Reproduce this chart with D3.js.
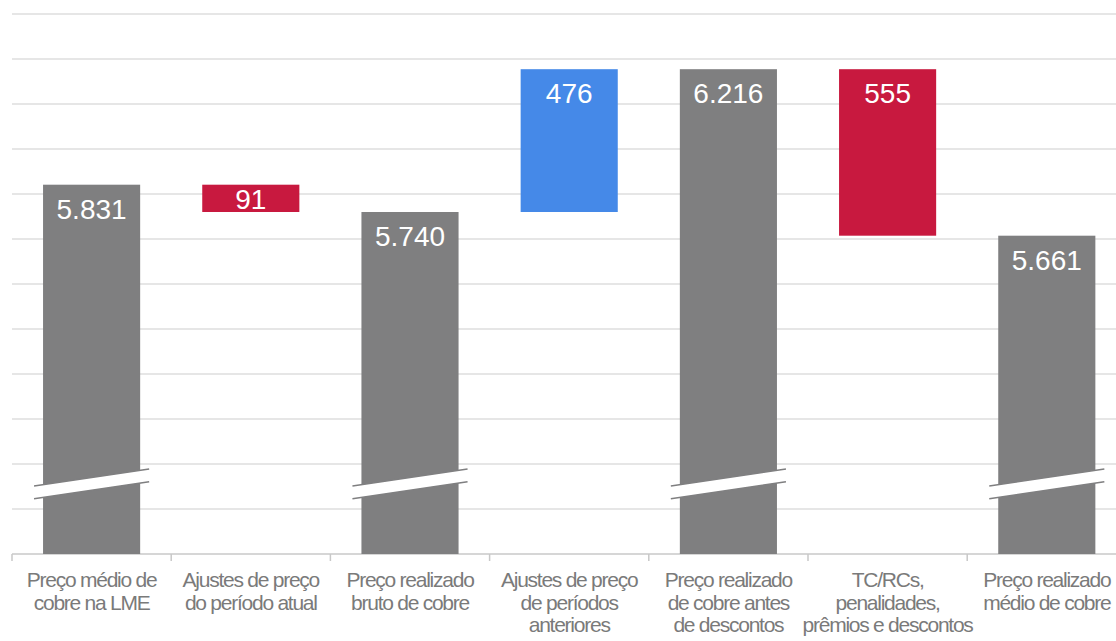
<!DOCTYPE html>
<html>
<head>
<meta charset="utf-8">
<script src="https://cdn.jsdelivr.net/npm/d3@7/dist/d3.min.js"></script>
<style>
  html, body { margin: 0; padding: 0; background: #ffffff; }
  svg { display: block; }
  text { font-family: "Liberation Sans", Arial, sans-serif; }
</style>
</head>
<body>
<svg id="chart" width="1116" height="641"></svg>
<script>
// Copper price bridge (US$/t)
const categories = [
  ["Preço médio de", "cobre na LME"],
  ["Ajustes de preço", "do período atual"],
  ["Preço realizado", "bruto de cobre"],
  ["Ajustes de preço", "de períodos", "anteriores"],
  ["Preço realizado", "de cobre antes", "de descontos"],
  ["TC/RCs,", "penalidades,", "prêmios e descontos"],
  ["Preço realizado", "médio de cobre"]
];
const values = [5831, -91, 5740, 476, 6216, -555, 5661];
const kinds = ["total", "delta", "total", "delta", "total", "delta", "total"];
const axisMin = 4600;
const axisMax = 6400;
const gridStep = 150;

const colors = { total: "#7f7f80", down: "#c8193f", up: "#4589e8" };

const W = 1116, H = 641;
const margin = { left: 12, top: 14, bottom: 87 };
const bandStep = 159.2;

const svg = d3.select("#chart");

const x = d3.scaleBand()
  .domain(d3.range(categories.length))
  .range([margin.left, margin.left + bandStep * categories.length])
  .paddingInner(0.39)
  .paddingOuter(0.195);

const y = d3.scaleLinear()
  .domain([axisMin, axisMax])
  .range([H - margin.bottom, margin.top]);

const fmt = d3.formatLocale({ decimal: ",", thousands: ".", grouping: [3], currency: ["", ""] }).format(",d");

// Build waterfall segments
let level = 0;
const bars = values.map((v, i) => {
  let lo, hi, color;
  if (kinds[i] === "total") {
    lo = axisMin; hi = v; level = v; color = colors.total;
  } else {
    const next = level + v;
    lo = Math.min(level, next); hi = Math.max(level, next);
    color = v < 0 ? colors.down : colors.up;
    level = next;
  }
  return { i, lo, hi, color, label: fmt(Math.abs(v)), kind: kinds[i] };
});

// Gridlines
const gridVals = d3.range(axisMin + gridStep, axisMax + 1, gridStep);
svg.append("g")
  .selectAll("line")
  .data(gridVals)
  .join("line")
  .attr("x1", margin.left).attr("x2", W)
  .attr("y1", d => y(d)).attr("y2", d => y(d))
  .attr("stroke", "#dedede")
  .attr("stroke-width", 1.5);

// Bottom axis with boundary ticks
const xAxis = svg.append("g");
xAxis.append("line")
  .attr("x1", margin.left).attr("x2", W)
  .attr("y1", y(axisMin)).attr("y2", y(axisMin))
  .attr("stroke", "#c8c8c8").attr("stroke-width", 1.5);
xAxis.selectAll("line.tick")
  .data(d3.range(categories.length + 1))
  .join("line")
  .attr("class", "tick")
  .attr("x1", d => margin.left + d * bandStep)
  .attr("x2", d => margin.left + d * bandStep)
  .attr("y1", y(axisMin)).attr("y2", y(axisMin) + 7)
  .attr("stroke", "#c8c8c8").attr("stroke-width", 1.5);

// Bars
svg.append("g")
  .selectAll("rect")
  .data(bars)
  .join("rect")
  .attr("x", d => x(d.i))
  .attr("width", x.bandwidth())
  .attr("y", d => y(d.hi))
  .attr("height", d => y(d.lo) - y(d.hi))
  .attr("fill", d => d.color);

// Axis-break marks on total bars
const breakGroup = svg.append("g");
bars.filter(d => d.kind === "total").forEach(d => {
  const x0 = x(d.i) - 9, x1 = x(d.i) + x.bandwidth() + 9;
  const base = y(axisMin);
  const yl = base - 68, yr = base - 85, gap = 12.7;
  breakGroup.append("path")
    .attr("d", `M${x0},${yl} L${x1},${yr} L${x1},${yr + gap} L${x0},${yl + gap} Z`)
    .attr("fill", "#ffffff");
  breakGroup.append("path")
    .attr("d", `M${x0},${yl} L${x1},${yr} M${x0},${yl + gap} L${x1},${yr + gap}`)
    .attr("fill", "none")
    .attr("stroke", "#7f7f80")
    .attr("stroke-width", 1.6);
});

// Value labels
svg.append("g")
  .selectAll("text")
  .data(bars)
  .join("text")
  .attr("x", d => x(d.i) + x.bandwidth() / 2)
  .attr("y", d => {
    const h = y(d.lo) - y(d.hi);
    return y(d.hi) + Math.min(34, h / 2 + 10.3);
  })
  .attr("text-anchor", "middle")
  .attr("fill", "#ffffff")
  .attr("font-size", 28)
  .text(d => d.label);

// Category labels
const catG = svg.append("g");
categories.forEach((lines, i) => {
  const t = catG.append("text")
    .attr("text-anchor", "middle")
    .attr("fill", "#7a7a7a")
    .attr("font-size", 21)
    .attr("letter-spacing", -1.25);
  lines.forEach((ln, k) => {
    t.append("tspan")
      .attr("x", x(i) + x.bandwidth() / 2)
      .attr("y", 587 + k * 22.5)
      .text(ln);
  });
});
</script>
</body>
</html>
